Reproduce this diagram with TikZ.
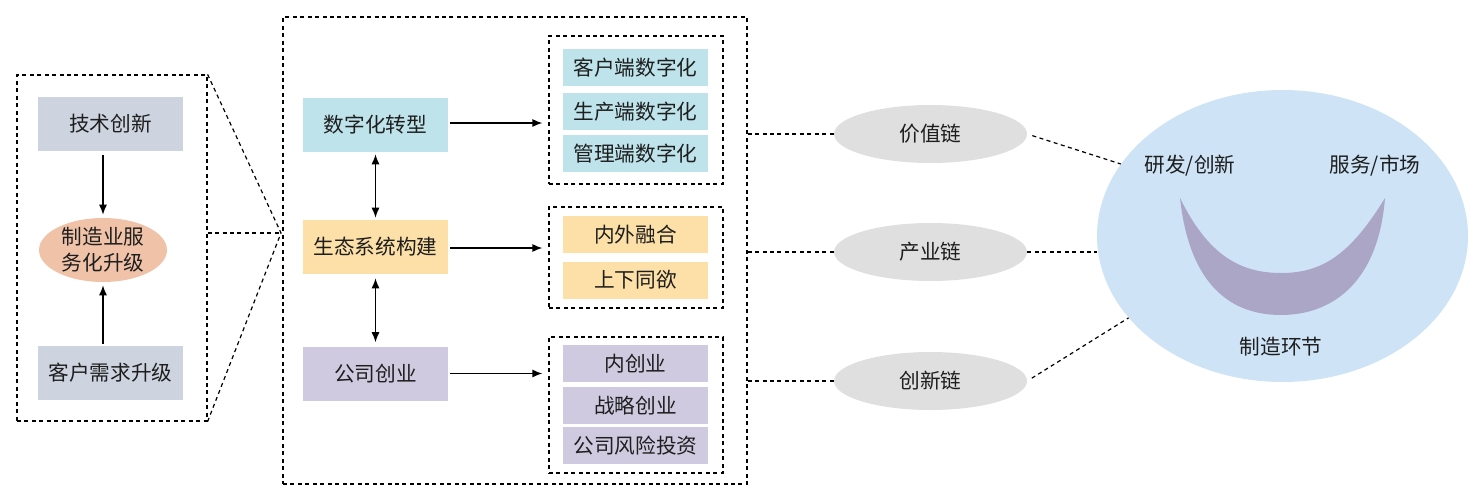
\documentclass[tikz,border=0pt]{standalone}
\usepackage{fontspec}
\setmainfont{Noto Sans CJK SC}
\usetikzlibrary{arrows.meta,shapes.geometric}
\definecolor{cGray}{HTML}{CDD4E0}
\definecolor{cSalmon}{HTML}{F0C3A9}
\definecolor{cCyan}{HTML}{BEE3EA}
\definecolor{cOrange}{HTML}{FDE0A7}
\definecolor{cLav}{HTML}{CFCADF}
\definecolor{cChain}{HTML}{DEDFDE}
\definecolor{cBig}{HTML}{CEE4F6}
\definecolor{cMoon}{HTML}{ACA6C6}
\definecolor{cText}{HTML}{1E1E1E}
\begin{document}
\begin{tikzpicture}[x=0.75pt,y=-0.75pt,
  every node/.style={font=\fontsize{15.5}{19.5}\selectfont, text=cText, inner sep=0pt},
  bigbox/.style={rectangle, minimum width=108.75pt, minimum height=40.5pt},
  smallbox/.style={rectangle, minimum width=108.75pt, minimum height=27.75pt},
  dashbox/.style={draw, line width=0.9pt, dash pattern=on 3pt off 2.6pt},
  dline/.style={line width=0.9pt, dash pattern=on 3pt off 2.6pt},
  arr/.style={line width=1pt, -{Latex[length=7.5pt,width=6pt]}},
  darr/.style={line width=1pt, {Latex[length=7.5pt,width=6pt]}-{Latex[length=7.5pt,width=6pt]}},
  chain/.style={ellipse, fill=cChain, minimum width=144.75pt, minimum height=43.5pt}
]
\useasboundingbox (0,0) rectangle (1481,496);

% left group
\node[dashbox, minimum width=142.5pt, minimum height=259.5pt] (L) at (112,248) {};
\node[bigbox, fill=cGray] (tech) at (110.5,124) {技术创新};
\node[ellipse, fill=cSalmon, minimum width=96pt, minimum height=48pt, align=center] (serv) at (103,250) {制造业服\\务化升级};
\node[bigbox, fill=cGray] (cust) at (110.5,373) {客户需求升级};
\draw[arr] ([yshift=-4*0.75pt]tech.south -| serv) -- ([yshift=3*0.75pt]serv.north);
\draw[arr] ([yshift=2*0.75pt]cust.north -| serv) -- ([yshift=-3*0.75pt]serv.south);

% connectors to middle
\coordinate (apex) at (281,233);
\draw[dline] (L.north east) -- (apex);
\draw[dline] (L.south east) -- (apex);
\draw[dline] (L.east |- apex) -- (apex);

% middle group
\node[dashbox, minimum width=348pt, minimum height=350.25pt] (M) at (515,250.5) {};
\node[bigbox, fill=cCyan] (dz) at (375.5,125) {数字化转型};
\node[bigbox, fill=cOrange] (eco) at (375.5,247) {生态系统构建};
\node[bigbox, fill=cLav] (gs) at (375.5,373.5) {公司创业};
\draw[darr] ([yshift=-2*0.75pt]dz.south) -- ([yshift=2*0.75pt]eco.north);
\draw[darr] ([yshift=-4*0.75pt]eco.south) -- ([yshift=4*0.75pt]gs.north);

\node[dashbox, minimum width=130.5pt, minimum height=111pt] (g1) at (636,110) {};
\node[dashbox, minimum width=130.5pt, minimum height=75.75pt] (g2) at (636,257.5) {};
\node[dashbox, minimum width=130.5pt, minimum height=102pt] (g3) at (636,405) {};

\node[smallbox, fill=cCyan] (a1) at (635.5,67.5) {客户端数字化};
\node[smallbox, fill=cCyan] (a2) at (635.5,111.5) {生产端数字化};
\node[smallbox, fill=cCyan] (a3) at (635.5,153.5) {管理端数字化};
\node[smallbox, fill=cOrange] (b1) at (635.5,234.5) {内外融合};
\node[smallbox, fill=cOrange] (b2) at (635.5,280) {上下同欲};
\node[smallbox, fill=cLav] (c1) at (635.5,363.5) {内创业};
\node[smallbox, fill=cLav] (c2) at (635.5,405.5) {战略创业};
\node[smallbox, fill=cLav] (c3) at (635.5,445.5) {公司风险投资};

\draw[arr] ([xshift=2*0.75pt,yshift=2*0.75pt]dz.east) -- ([yshift=2*0.75pt,xshift=-6*0.75pt]dz.east -| g1.west);
\draw[arr] ([xshift=2*0.75pt,yshift=-1*0.75pt]eco.east) -- ([yshift=-1*0.75pt,xshift=-6*0.75pt]eco.east -| g2.west);
\draw[arr] ([xshift=2*0.75pt]gs.east) -- ([xshift=-6*0.75pt]gs.east -| g3.west);

% chains
\node[chain] (v1) at (930.5,134) {价值链};
\node[chain] (v2) at (930.5,252) {产业链};
\node[chain] (v3) at (930.5,381) {创新链};
\draw[dline] (M.east |- v1.west) -- (v1.west);
\draw[dline] (M.east |- v2.west) -- (v2.west);
\draw[dline] (M.east |- v3.west) -- (v3.west);

% big ellipse
\node[ellipse, fill=cBig, minimum width=278.25pt, minimum height=219pt] (B) at (1282.5,236) {};
\fill[cMoon] (1180,198) .. controls (1190,290) and (1235,315) .. (1281,315)
  .. controls (1330,315) and (1378,285) .. (1385,198)
  .. controls (1350,255) and (1322,273) .. (1281,273)
  .. controls (1240,273) and (1208,255) .. (1180,198) -- cycle;
\node (rd) at (1190,166) {研发/创新};
\node (sm) at (1375,166) {服务/市场};
\node (mf) at (1281,347) {制造环节};

\draw[dline, shorten <=4pt] (v1.east) -- (B.156.8);
\draw[dline] (v2.east) -- (v2.east -| B.west);
\draw[dline, shorten <=4pt] (v3.east) -- (B.208.7);
\end{tikzpicture}
\end{document}
